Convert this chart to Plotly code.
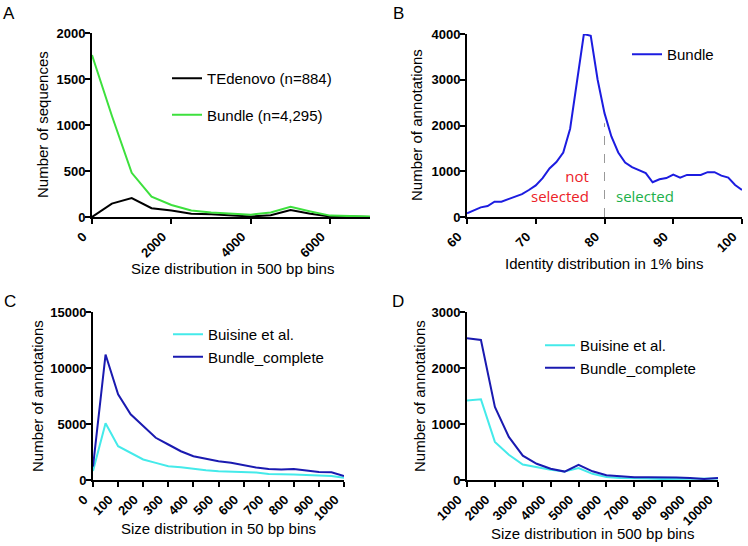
import plotly.graph_objects as go

# ---------------- DATA ----------------
# Panel A: size distribution in 500 bp bins
a_x = [0, 500, 1000, 1500, 2000, 2500, 3000, 3500, 4000, 4500, 5000, 5500, 6000, 6500, 7000]
a_tedenovo = [0, 145, 205, 95, 70, 35, 30, 20, 5, 20, 75, 35, 5, 5, 0]
a_bundle = [1760, 1100, 480, 220, 130, 70, 50, 40, 25, 50, 110, 60, 15, 10, 5]

# Panel B: identity distribution in 1% bins
b_x = list(range(60, 101))
b_bundle = [80, 150, 210, 240, 335, 335, 390, 430, 500, 590,
            690, 850, 1060, 1200, 1410, 1930, 2960, 4000, 3960, 3000,
            2270, 1760, 1410, 1190, 1090, 1030, 960, 760, 825, 850,
            925, 860, 920, 920, 920, 980, 980, 905, 860, 700, 590]
b_threshold = 80
b_threshold_top = 2050

# Panel C: size distribution in 50 bp bins
c_x = list(range(0, 1001, 50))
c_buisine = [800, 5060, 3020, 2420, 1830, 1530, 1230, 1140, 990, 870, 780,
             750, 750, 660, 540, 480, 480, 450, 420, 360, 200]
c_bundle = [1200, 11200, 7660, 5870, 4820, 3770, 3170, 2570, 2120, 1890, 1680,
            1530, 1290, 1110, 990, 930, 990, 840, 720, 690, 360]

# Panel D: size distribution in 500 bp bins
d_x = list(range(1000, 10001, 500))
d_buisine = [1420, 1440, 680, 450, 275, 225, 185, 150, 215, 110,
             55, 35, 25, 25, 20, 20, 15, 15, 25]
d_bundle = [2530, 2500, 1306, 770, 435, 290, 200, 150, 270, 155,
            85, 70, 50, 50, 50, 45, 35, 20, 35]

# ---------------- STYLE ----------------
W, H = 748, 546
FONT = "Liberation Sans, Arial, sans-serif"
GREEN = "#3de03d"
BLACK = "#000000"
BLUE = "#1c1ce0"
DARKBLUE = "#1a1ab0"
CYAN = "#44eaea"

def px(xp):
    return xp / W

def py(yp):
    return 1 - yp / H

fig = go.Figure()

# Panel A
fig.add_trace(go.Scatter(x=a_x, y=a_tedenovo, mode="lines", name="TEdenovo (n=884)",
                         line=dict(color=BLACK, width=2), xaxis="x", yaxis="y",
                         legend="legend", legendgroup="a1"))
fig.add_trace(go.Scatter(x=a_x, y=a_bundle, mode="lines", name="Bundle (n=4,295)",
                         line=dict(color=GREEN, width=2), xaxis="x", yaxis="y",
                         legend="legend", legendgroup="a2"))
# Panel B
fig.add_trace(go.Scatter(x=b_x, y=b_bundle, mode="lines", name="Bundle",
                         line=dict(color=BLUE, width=2), xaxis="x2", yaxis="y2",
                         legend="legend2"))
# Panel C
fig.add_trace(go.Scatter(x=c_x, y=c_buisine, mode="lines", name="Buisine et al.",
                         line=dict(color=CYAN, width=2), xaxis="x3", yaxis="y3",
                         legend="legend3"))
fig.add_trace(go.Scatter(x=c_x, y=c_bundle, mode="lines", name="Bundle_complete",
                         line=dict(color=DARKBLUE, width=2), xaxis="x3", yaxis="y3",
                         legend="legend3"))
# Panel D
fig.add_trace(go.Scatter(x=d_x, y=d_buisine, mode="lines", name="Buisine et al.",
                         line=dict(color=CYAN, width=2), xaxis="x4", yaxis="y4",
                         legend="legend4"))
fig.add_trace(go.Scatter(x=d_x, y=d_bundle, mode="lines", name="Bundle_complete",
                         line=dict(color=DARKBLUE, width=2), xaxis="x4", yaxis="y4",
                         legend="legend4"))

tickfont = dict(family=FONT, size=13, color="black", weight="bold")
axis_common = dict(showgrid=False, zeroline=False, showline=True, linecolor="black",
                   linewidth=2, ticks="outside", ticklen=5, tickwidth=2, tickcolor="black",
                   tickfont=tickfont, automargin=False, exponentformat="none",
                   separatethousands=False, tickformat="d",
                   tickprefix="<b>", ticksuffix="</b>")

def xaxis(domain, rng, tick0, dtick, anchor):
    return dict(domain=domain, range=rng, tick0=tick0, dtick=dtick, tickangle=-45,
                anchor=anchor, ticklabelshift=-9, **axis_common)

def yaxis(domain, rng, dtick, anchor):
    return dict(domain=domain, range=rng, tick0=0, dtick=dtick, anchor=anchor,
                ticklabelstandoff=-3, **axis_common)

legfont = dict(family=FONT, size=15, color="black")

def legend(xp, yp, gap=10):
    return dict(x=px(xp), y=py(yp), xanchor="left", yanchor="top", font=legfont,
                bgcolor="rgba(0,0,0,0)", borderwidth=0, tracegroupgap=gap)

fig.update_layout(
    width=W, height=H, margin=dict(l=0, r=0, t=0, b=0, pad=0, autoexpand=False),
    paper_bgcolor="white", plot_bgcolor="white", showlegend=True,
    xaxis=xaxis([px(92), px(370)], [0, 7000], 0, 2000, "y"),
    yaxis=yaxis([py(217), py(33)], [0, 2000], 500, "x"),
    xaxis2=xaxis([px(467), px(742)], [60, 100], 60, 10, "y2"),
    yaxis2=yaxis([py(217), py(34)], [0, 4000], 1000, "x2"),
    xaxis3=xaxis([px(93), px(344)], [0, 1000], 0, 100, "y3"),
    yaxis3=yaxis([py(480), py(312)], [0, 15000], 5000, "x3"),
    xaxis4=xaxis([px(467), px(718)], [1000, 10000], 1000, 1000, "y4"),
    yaxis4=yaxis([py(480), py(312)], [0, 3000], 1000, "x4"),
    legend=legend(167, 62, gap=14),
    legend2=legend(627, 38),
    legend3=legend(168, 318),
    legend4=legend(540, 329),
)

# threshold dashed line in B
fig.add_shape(type="line", xref="x2", yref="y2", x0=b_threshold, x1=b_threshold,
              y0=0, y1=b_threshold_top, line=dict(color="#999999", width=1, dash="dash"))

TXT = "Open Sans, Liberation Sans, sans-serif"
fig.add_annotation(xref="x2", yref="y2", x=78.1, y=680, text="not<br>selected",
                   showarrow=False, align="right", xanchor="right", yanchor="middle",
                   font=dict(family=TXT, size=15, color="#ec2228"))
fig.add_annotation(xref="x2", yref="y2", x=81.4, y=450, text="selected",
                   showarrow=False, xanchor="left", yanchor="middle",
                   font=dict(family=TXT, size=15, color="#20b04a"))

# axis titles
tfont = dict(family=FONT, size=15, color="black")
titles = [
    (43, 125, "Number of sequences", -90),
    (232, 268, "Size distribution in 500 bp bins", 0),
    (417, 125, "Number of annotations", -90),
    (604, 263, "Identity distribution in 1% bins", 0),
    (37, 396, "Number of annotations", -90),
    (218, 528, "Size distribution in 50 bp bins", 0),
    (419, 396, "Number of annotations", -90),
    (592, 533, "Size distribution in 500 bp bins", 0),
]
for xp_, yp_, t, ang in titles:
    fig.add_annotation(xref="paper", yref="paper", x=px(xp_), y=py(yp_), text=t,
                       showarrow=False, textangle=ang, xanchor="center", yanchor="middle",
                       font=tfont)

# panel letters
for xp_, yp_, t in [(9, 13, "A"), (398, 13, "B"), (10, 301, "C"), (398, 301, "D")]:
    fig.add_annotation(xref="paper", yref="paper", x=px(xp_), y=py(yp_), text=t,
                       showarrow=False, xanchor="center", yanchor="middle",
                       font=dict(family=FONT, size=17, color="black"))

fig.write_html("out.html", config={"displayModeBar": False},
               post_script="document.body.style.margin='0px';document.body.style.overflow='hidden';")
